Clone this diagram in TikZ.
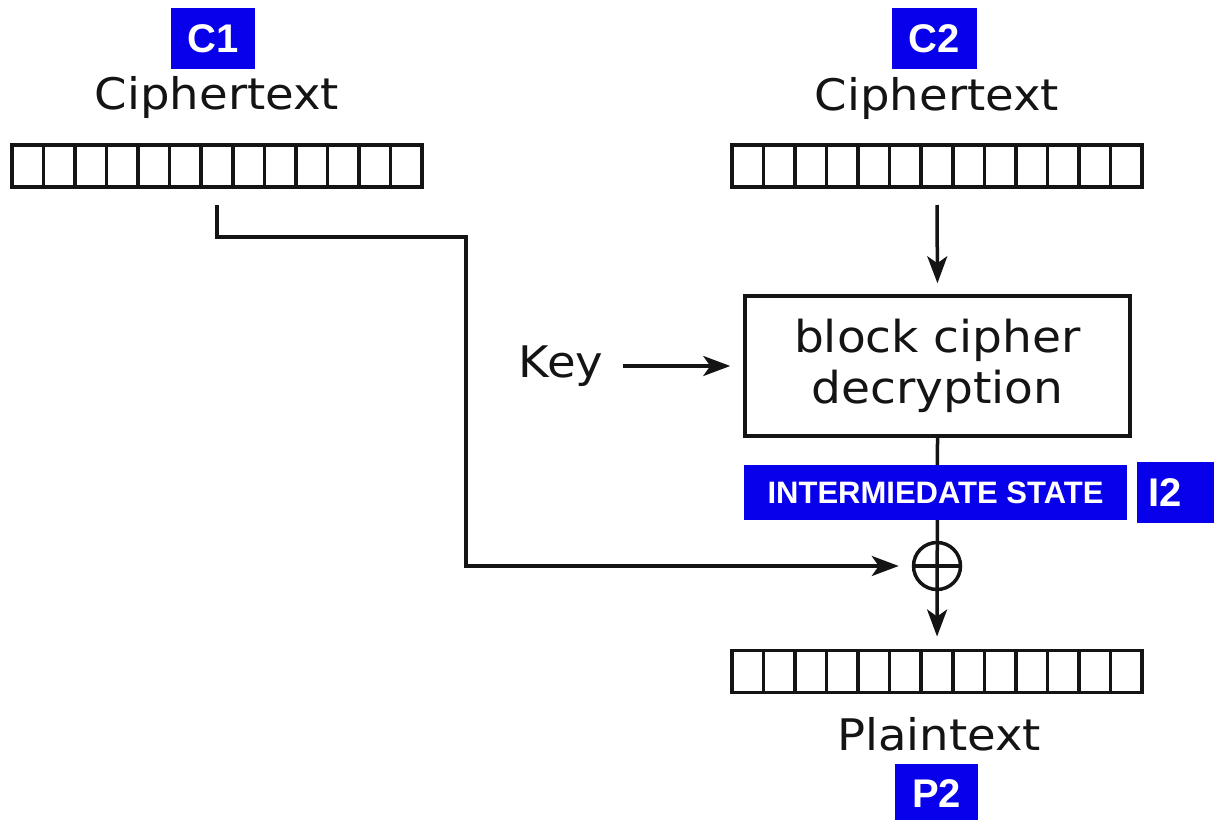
\documentclass[tikz,border=0pt]{standalone}
\usepackage{fontspec}
\setmainfont{DejaVu Sans}[FakeStretch=1.07]
\newfontfamily\tagfont{Liberation Sans}
\usetikzlibrary{arrows.meta}
\definecolor{tagblue}{RGB}{8,0,235}
\definecolor{ink}{RGB}{20,20,20}
\tikzset{
  wire/.style={draw=ink, line width=3.5pt},
  arrow/.style={wire, -{Stealth[length=27pt,width=20pt,inset=7pt]}},
  cellrow/.style={draw=ink, line width=3.5pt, minimum width=410pt, minimum height=42pt, inner sep=0pt, outer sep=0pt},
  label/.style={inner sep=0pt, text=ink, font=\fontsize{43.5}{48}\selectfont},
  tag/.style={fill=tagblue, text=white, inner sep=0pt, font=\tagfont\bfseries\fontsize{40}{44}\selectfont},
  cipherbox/.style={draw=ink, line width=3.5pt, minimum width=385pt, minimum height=140pt, align=center, inner sep=0pt, text=ink, font=\fontsize{44}{51}\selectfont},
  xorgate/.style={draw=ink, line width=3.5pt, circle, minimum size=47pt, inner sep=0pt}
}
\newcommand{\cells}[1]{%
  \foreach \k in {1,...,12}
    \draw[ink, line width=3.5pt] ([xshift=\k*410pt/13]#1.north west) -- ([xshift=\k*410pt/13]#1.south west);}
\begin{document}
\begin{tikzpicture}[x=1pt,y=-1pt]
\useasboundingbox (0,0) rectangle (1214,819);
\begin{scope}
\clip (0,0) rectangle (1214,819);

% ciphertext block C1
\node[tag, minimum width=84pt, minimum height=61pt] (c1tag) at (213,38.5) {C1};
\node[label, anchor=base] (c1txt) at (217,109) {Ciphertext};
\node[cellrow] (c1row) at (217,166) {};
\cells{c1row}

% ciphertext block C2
\node[tag, minimum width=85pt, minimum height=61pt] (c2tag) at (934.5,38.5) {C2};
\node[label, anchor=base] (c2txt) at (937,110) {Ciphertext};
\node[cellrow] (c2row) at (937,166) {};
\cells{c2row}

% decryption
\node[cipherbox] (dec) at (937.5,366) {block cipher\\decryption};
\node[label, anchor=base] (key) at (561,377) {Key};

% xor and plaintext
\node[xorgate] (xor) at (937,566) {};
\draw[wire] (xor.west) -- (xor.east);
\node[cellrow] (prow) at (937,671.5) {};
\cells{prow}
\node[label, anchor=base] (ptxt) at (939,750) {Plaintext};
\node[tag, minimum width=83pt, minimum height=61pt] (p2tag) at (936.5,794) {P2};

% connectors
\coordinate (tap) at ([yshift=-18pt]c1row.south);
\coordinate (bend) at (466,237);
\draw[arrow, shorten >=13pt] (tap) |- (bend) |- (xor.west);
\draw[arrow, shorten >=11pt] ([yshift=-18pt]c2row.south) -- (dec.north);
\draw[arrow, shorten <=20pt, shorten >=13pt] (key.east |- dec.west) -- (dec.west);
\draw[arrow, shorten >=14pt] (dec.south) -- (prow.north);

% intermediate state labels
\node[tag, font=\tagfont\bfseries\fontsize{31}{34}\selectfont, minimum width=383pt, minimum height=55pt] (state) at (935.5,492.5) {INTERMIEDATE STATE};
\node[tag, anchor=west, minimum height=61pt, inner xsep=11pt, text width=70pt, align=left] (i2tag) at (1137,492.5) {I2};
\end{scope}
\end{tikzpicture}
\end{document}
